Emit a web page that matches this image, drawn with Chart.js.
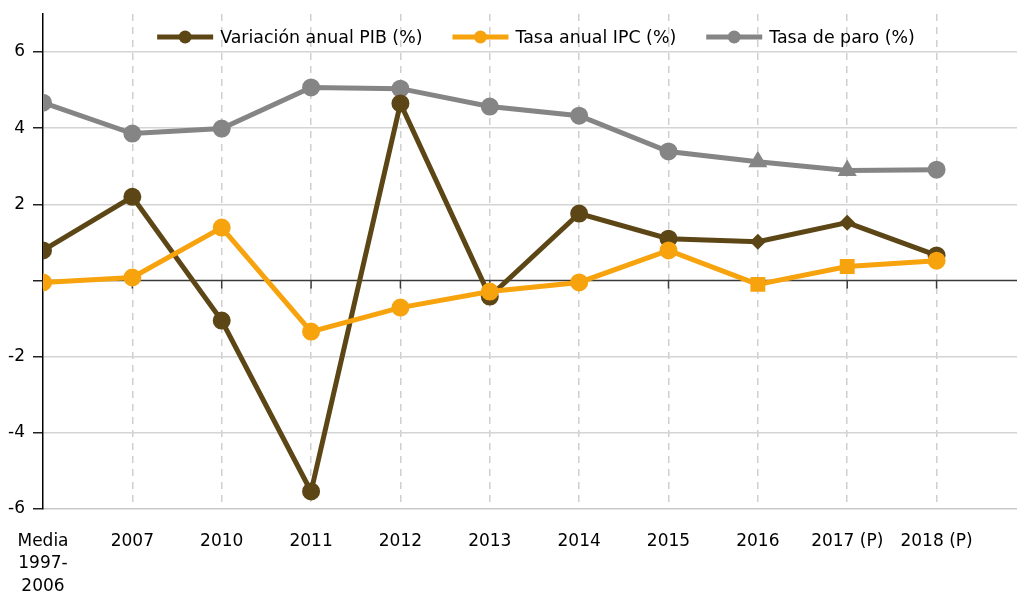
<!DOCTYPE html>
<html lang="es">
  <head>
    <meta charset="UTF-8" />
    <title>PIB, IPC y paro</title>
    <script src="https://cdn.jsdelivr.net/npm/chart.js"></script>
    <style>
      html,
      body {
        margin: 0;
        padding: 0;
        background: #fff;
        overflow: hidden;
      }
    </style>
  </head>
  <body>
    <canvas id="chart" width="1017" height="592"></canvas>
  </body>
  <script>
    const years = [["Media", "1997-", "2006"], "2007", "2010", "2011", "2012", "2013", "2014", "2015", "2016", "2017 (P)", "2018 (P)"];
    const pib = [0.79, 2.2, -1.05, -5.54, 4.65, -0.42, 1.76, 1.1, 1.02, 1.52, 0.66];
    const ipc = [-0.05, 0.08, 1.39, -1.34, -0.71, -0.29, -0.05, 0.79, -0.1, 0.37, 0.52];
    const paro = [4.67, 3.86, 3.99, 5.07, 5.04, 4.57, 4.33, 3.39, 3.12, 2.89, 2.91];
    const yTicks = [-6, -4, -2, 0, 2, 4, 6];

    const FONT = "'DejaVu Sans', sans-serif";
    const BROWN = "#5c4615";
    const ORANGE = "#f7a30e";
    const GREY = "#858585";

    const toPoints = (arr) => arr.map((v, i) => ({ x: i, y: v }));

    // zero line with small tick marks at each category
    const zeroLine = {
      id: "zeroLine",
      beforeDatasetsDraw(chart) {
        const { ctx, chartArea, scales } = chart;
        const y0 = scales.y.getPixelForValue(0);
        ctx.save();
        ctx.strokeStyle = "#3a3a3a";
        ctx.lineWidth = 1.5;
        ctx.beginPath();
        ctx.moveTo(chartArea.left, y0);
        ctx.lineTo(chartArea.right, y0);
        years.forEach((_, i) => {
          const px = scales.x.getPixelForValue(i);
          ctx.moveTo(px, y0);
          ctx.lineTo(px, y0 + 8);
        });
        ctx.stroke();
        ctx.restore();
      },
    };

    // legend drawn inside the plot, line + dot symbols
    const topLegend = {
      id: "topLegend",
      afterDatasetsDraw(chart) {
        const { ctx, chartArea } = chart;
        const symW = 56;
        const gap = 30;
        ctx.save();
        ctx.font = "17.4px " + FONT;
        const items = chart.data.datasets.map((ds) => ({
          ds: ds,
          w: symW + 7 + ctx.measureText(ds.label).width,
        }));
        const total = items.reduce((s, it) => s + it.w, 0) + gap * (items.length - 1);
        let x = (chartArea.left + chartArea.right) / 2 + 6 - total / 2;
        const y = 37;
        items.forEach((it) => {
          const c = it.ds.borderColor;
          ctx.strokeStyle = c;
          ctx.fillStyle = c;
          ctx.lineWidth = 5;
          ctx.beginPath();
          ctx.moveTo(x, y);
          ctx.lineTo(x + symW, y);
          ctx.stroke();
          ctx.beginPath();
          ctx.arc(x + symW / 2, y, 6.5, 0, Math.PI * 2);
          ctx.fill();
          ctx.fillStyle = "#000";
          ctx.textBaseline = "middle";
          ctx.textAlign = "left";
          ctx.fillText(it.ds.label, x + symW + 7, y + 1);
          x += it.w + gap;
        });
        ctx.restore();
      },
    };

    const chart = new Chart(document.getElementById("chart"), {
      type: "line",
      data: {
        datasets: [
          {
            label: "Variación anual PIB (%)",
            data: toPoints(pib),
            borderColor: BROWN,
            backgroundColor: BROWN,
            borderWidth: 5,
            pointStyle: ["circle", "circle", "circle", "circle", "circle", "circle", "circle", "circle", "rectRot", "rectRot", "circle"],
            pointRadius: [6.5, 6.5, 6.5, 6.5, 6.5, 6.5, 6.5, 6.5, 4.5, 4.5, 6.5],
            order: 2,
          },
          {
            label: "Tasa anual IPC (%)",
            data: toPoints(ipc),
            borderColor: ORANGE,
            backgroundColor: ORANGE,
            borderWidth: 5,
            pointStyle: ["circle", "circle", "circle", "circle", "circle", "circle", "circle", "circle", "rect", "rect", "circle"],
            pointRadius: [6.5, 6.5, 6.5, 6.5, 6.5, 6.5, 6.5, 6.5, 7, 7, 6.5],
            order: 1,
          },
          {
            label: "Tasa de paro (%)",
            data: toPoints(paro),
            borderColor: GREY,
            backgroundColor: GREY,
            borderWidth: 5,
            pointStyle: ["circle", "circle", "circle", "circle", "circle", "circle", "circle", "circle", "triangle", "triangle", "circle"],
            pointRadius: [6.5, 6.5, 6.5, 6.5, 6.5, 6.5, 6.5, 6.5, 6, 6, 6.5],
            order: 3,
          },
        ],
      },
      options: {
        responsive: false,
        animation: false,
        layout: { autoPadding: false, padding: { top: 14, left: 0, right: 0, bottom: 0 } },
        elements: { line: { tension: 0 }, point: { borderWidth: 1 } },
        plugins: {
          legend: { display: false },
          tooltip: { enabled: false },
        },
        scales: {
          x: {
            type: "linear",
            min: 0,
            max: 10.9,
            afterBuildTicks: (s) => {
              s.ticks = years.map((_, i) => ({ value: i }));
            },
            afterFit: (s) => {
              s.height = 83;
              s.paddingLeft = 0;
              s.paddingRight = 0;
            },
            ticks: {
              callback: (v) => years[v],
              color: "#000",
              font: { family: FONT, size: 17, lineHeight: 1.32 },
              padding: 21,
              maxRotation: 0,
              autoSkip: false,
            },
            grid: {
              color: (c) => (c.index === 0 ? "rgba(0,0,0,0)" : "#cfcfcf"),
              lineWidth: 1.5,
              drawTicks: false,
            },
            border: { color: "#c8c8c8", width: 1.5, dash: [7, 6] },
          },
          y: {
            min: -6,
            max: 7,
            afterBuildTicks: (s) => {
              s.ticks = yTicks.map((v) => ({ value: v }));
            },
            afterFit: (s) => {
              s.width = 43;
              s.paddingTop = 0;
              s.paddingBottom = 0;
            },
            ticks: {
              callback: (v) => (v === 0 ? "" : v),
              color: "#000",
              font: { family: FONT, size: 17 },
              padding: 8,
            },
            grid: {
              color: (c) => (c.tick && (c.tick.value === 0 || c.tick.value === -6) ? "rgba(0,0,0,0)" : "#d4d4d4"),
              lineWidth: 1.5,
              tickLength: 10,
              tickColor: "#222",
            },
            border: { color: "#000", width: 1.5 },
          },
        },
      },
      plugins: [zeroLine, topLegend],
    });
  </script>
</html>
